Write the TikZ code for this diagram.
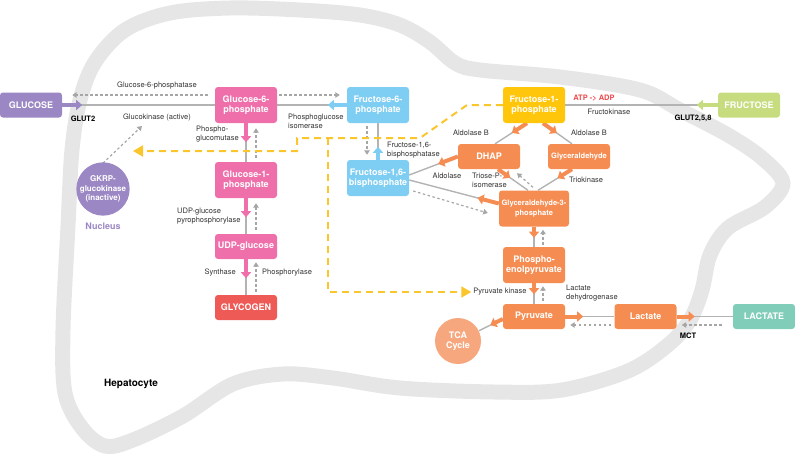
\documentclass[tikz,border=0pt]{standalone}
\usepackage{fontspec}
\setmainfont{TeX Gyre Heros}
\usetikzlibrary{arrows.meta,calc}
\definecolor{cpurple}{HTML}{9B87C4}
\definecolor{cpink}{HTML}{EE6FAA}
\definecolor{cblue}{HTML}{7ECDF2}
\definecolor{cred}{HTML}{EE5A55}
\definecolor{cyellowbox}{HTML}{FFC60B}
\definecolor{cgreen}{HTML}{C6DC7E}
\definecolor{corange}{HTML}{F58D53}
\definecolor{cteal}{HTML}{80CDB9}
\definecolor{ctca}{HTML}{F7A77E}
\definecolor{cline}{HTML}{B3B3B3}
\definecolor{cdash}{HTML}{A6A6A6}
\definecolor{cmem}{HTML}{E6E6E6}
\definecolor{cyel}{HTML}{FBC52C}
\definecolor{catp}{HTML}{EE4A4E}
\definecolor{clbl}{HTML}{333333}
\pgfdeclarelayer{mem}
\pgfdeclarelayer{lines}
\pgfsetlayers{mem,lines,main}
\begin{document}
\begin{tikzpicture}[x=1pt,y=-1pt,
  box/.style={rounded corners=3pt, minimum width=62pt, minimum height=25pt, inner sep=0pt,
    text=white, font=\fontsize{9}{10.5}\selectfont\bfseries, align=center},
  tall/.style={minimum height=36pt},
  smallbox/.style={font=\fontsize{7.5}{9.5}\selectfont\bfseries},
  ball/.style={circle, minimum size=46pt, inner sep=0pt, text=white, align=center},
  lbl/.style={font=\fontsize{7.5}{9}\selectfont, text=clbl, inner sep=0pt, align=left},
  blbl/.style={font=\fontsize{7.5}{9}\selectfont\bfseries, text=black, inner sep=0pt},
  link/.style={draw=cline, line width=1.4pt},
  back/.style={draw=cdash, line width=1.2pt, dash pattern=on 2.5pt off 2.5pt, -{Triangle[width=5.5pt,length=4.5pt]}},
  fat/.style={line width=4pt, -{Triangle[width=10pt,length=6pt]}},
  ydash/.style={draw=cyel, line width=2pt, dash pattern=on 7pt off 5pt, -{Triangle[width=11pt,length=10pt]}}
]
\useasboundingbox (0,0) rectangle (795,456);

% ---------- nodes ----------
\node[box, fill=cpurple] (glucose) at (31,105) {GLUCOSE};
\node[box, tall, fill=cpink] (g6p) at (246,105) {Glucose-6-\\phosphate};
\node[box, tall, fill=cblue] (f6p) at (378,105) {Fructose-6-\\phosphate};
\node[box, tall, fill=cpink] (g1p) at (246,180) {Glucose-1-\\phosphate};
\node[box, fill=cpink] (udp) at (246,246.5) {UDP-glucose};
\node[box, fill=cred] (gly) at (246,307.5) {GLYCOGEN};
\node[box, tall, fill=cblue] (f16bp) at (378,178) {Fructose-1,6-\\bisphosphate};
\node[box, tall, fill=cyellowbox] (f1p) at (534,105) {Fructose-1-\\phosphate};
\node[box, fill=cgreen] (fructose) at (749,105) {FRUCTOSE};
\node[box, fill=corange] (dhap) at (489,156.5) {DHAP};
\node[box, smallbox, fill=corange] (glyc) at (579,156.5) {Glyceraldehyde};
\node[box, tall, smallbox, minimum width=70pt, fill=corange] (ga3p) at (534,208.5) {Glyceraldehyde-3-\\phosphate};
\node[box, tall, fill=corange] (pep) at (534,265) {Phospho-\\enolpyruvate};
\node[box, fill=corange] (pyr) at (534,316.5) {Pyruvate};
\node[box, fill=corange] (lac) at (645.5,316.5) {Lactate};
\node[box, fill=cteal] (lactate) at (764,316.5) {LACTATE};
\node[ball, fill=cpurple, font=\fontsize{8}{9.5}\selectfont\bfseries] (gkrp) at (103,189) {GKRP-\\glucokinase\\(inactive)};
\node[ball, fill=ctca, font=\fontsize{9}{10.7}\selectfont\bfseries] (tca) at (458,341) {TCA\\Cycle};

% ---------- labels ----------
\node[lbl] (l-g6pase) at (157,86) {Glucose-6-phosphatase};
\node[lbl] (l-gk) at (157,117) {Glucokinase (active)};
\node[blbl] (l-glut2) at (83,119) {GLUT2};
\node[lbl, anchor=west] (l-pgi) at (288,121) {Phosphoglucose\\isomerase};
\node[lbl, anchor=west] (l-pgm) at (196,134) {Phospho-\\glucomutase};
\node[lbl, anchor=west] (l-udpp) at (177,216) {UDP-glucose\\pyrophosphorylase};
\node[lbl, anchor=east] (l-syn) at (236,273) {Synthase};
\node[lbl, anchor=west] (l-phos) at (262,273) {Phosphorylase};
\node[lbl, anchor=west] (l-fbpase) at (387,150) {Fructose-1,6-\\bisphosphatase};
\node[blbl, text=catp] (l-atp) at (594,98) {ATP -> ADP};
\node[lbl] (l-fk) at (609,112) {Fructokinase};
\node[blbl] (l-glut258) at (693,118) {GLUT2,5,8};
\node[lbl] (l-aldb1) at (471,133) {Aldolase B};
\node[lbl] (l-aldb2) at (589,133) {Aldolase B};
\node[lbl] (l-ald) at (447,176) {Aldolase};
\node[lbl, anchor=west] (l-tpi) at (472,180) {Triose-P-\\isomerase};
\node[lbl, anchor=west] (l-trk) at (569,180) {Triokinase};
\node[lbl] (pk) at (500,292) {Pyruvate kinase};
\node[lbl, anchor=west] (l-ldh) at (566,293) {Lactate\\dehydrogenase};
\node[blbl] (l-mct) at (688,336) {MCT};
\node[font=\fontsize{9}{10}\selectfont\bfseries, text=cpurple, inner sep=0pt] (l-nuc) at (103,226) {Nucleus};
\node[font=\fontsize{10}{12}\selectfont\bfseries, text=black, inner sep=0pt] (l-hep) at (131,384) {Hepatocyte};

% ---------- helper coordinates ----------
\coordinate (gkend) at (142,126);
\coordinate (ytipL) at (133,151);
\coordinate (f1pL) at ($(f1p.south)+(-7,0)$);
\coordinate (f1pR) at ($(f1p.south)+(9,0)$);
\coordinate (dhapT) at ($(dhap.north)+(6,0)$);
\coordinate (glycT) at ($(glyc.north)+(-7,0)$);
\coordinate (fbpA) at ($(f16bp.east)+(0,-3)$);
\coordinate (fbpB) at ($(f16bp.east)+(0,2)$);
\coordinate (gapW) at ($(ga3p.west)+(0,-5)$);
\coordinate (dhapB) at ($(dhap.south)+(9,0)$);
\coordinate (gapT1) at ($(ga3p.north)+(-6,0)$);
\coordinate (glycB) at ($(glyc.south)+(-7,0)$);
\coordinate (gapT2) at ($(ga3p.north)+(4,0)$);
\coordinate (pyrW) at ($(pyr.west)+(0,2.5)$);

% ---------- membrane ----------
\begin{pgfonlayer}{mem}
\draw[cmem, line width=15pt] plot[smooth cycle, tension=0.55] coordinates {
 (68,226) (72,150) (80,100) (95,62) (125,30) (170,13) (230,8) (300,10) (360,15)
 (400,25) (430,42) (455,63) (480,70) (560,77) (640,90) (680,110) (728,135)
 (762,158) (783,183) (765,207) (728,228) (710,255) (702,290) (690,320) (668,345)
 (628,371) (562,390) (495,392) (400,388) (333,378) (283,374) (233,384) (183,416)
 (133,440) (105,446) (82,428) (65,393) (63,330)};
\end{pgfonlayer}

% ---------- connectors ----------
\begin{pgfonlayer}{lines}
% glucose <-> G6P
\draw[link] (glucose.east) -- (g6p.west);
\draw[fat, cpurple] (glucose.east) -- ($(glucose.east)!20pt!(g6p.west)$);
\draw[back] ($(g6p.west)+(-7,-10)$) -- ($(glucose.east)+(10,-10)$);
\draw[back] ($(gkrp.north)+(0,1)$) -- (gkend);
% G6P <-> F6P
\draw[link] (g6p.east) -- (f6p.west);
\draw[fat, cblue] (f6p.west) -- ($(f6p.west)!19pt!(g6p.east)$);
\draw[back] ($(g6p.east)+(2,-10)$) -- ($(f6p.west)+(-7,-10)$);
% G6P <-> G1P
\draw[link] (g6p.south) -- (g1p.north);
\draw[fat, cpink] (g6p.south) -- ($(g6p.south)!19pt!(g1p.north)$);
\draw[back] ($(g1p.north)+(10,-4)$) -- ($(g6p.south)+(10,5)$);
% G1P <-> UDP
\draw[link] (g1p.south) -- (udp.north);
\draw[fat, cpink] (g1p.south) -- ($(g1p.south)!19pt!(udp.north)$);
\draw[back] ($(udp.north)+(10,-4)$) -- ($(g1p.south)+(10,5)$);
% UDP <-> glycogen
\draw[link] (udp.south) -- (gly.north);
\draw[fat, cpink] (udp.south) -- ($(udp.south)!19pt!(gly.north)$);
\draw[back] ($(gly.north)+(10,-3)$) -- ($(udp.south)+(10,3)$);
% F6P <-> F1,6BP
\draw[link] (f6p.south) -- (f16bp.north);
\draw[fat, cblue] (f16bp.north) -- ($(f16bp.north)!13pt!(f6p.south)$);
\draw[back] ($(f6p.south)+(-11,3)$) -- ($(f16bp.north)+(-11,-5)$);
% fructose -> F1P
\draw[link] (fructose.west) -- (f1p.east);
\draw[fat, cgreen] (fructose.west) -- ($(fructose.west)!21pt!(f1p.east)$);
% F1P -> DHAP / glyceraldehyde
\draw[link] (f1pL) -- (dhapT);
\draw[fat, corange] (f1pL) -- ($(f1pL)!18pt!(dhapT)$);
\draw[link] (f1pR) -- (glycT);
\draw[fat, corange] (f1pR) -- ($(f1pR)!17pt!(glycT)$);
% DHAP -> F1,6BP
\draw[link] (fbpA) -- (dhap.west);
\draw[fat, corange] (dhap.west) -- ($(dhap.west)!21pt!(fbpA)$);
% GA3P -> F1,6BP
\draw[link] (fbpB) -- (gapW);
\draw[fat, corange] (gapW) -- ($(gapW)!22pt!(fbpB)$);
\draw[back] ($(f16bp.east)+(4,13)$) -- ($(ga3p.west)+(-11,4.5)$);
% DHAP -> GA3P
\draw[link] (dhapB) -- (gapT1);
\draw[fat, corange] (dhapB) -- ($(dhapB)!15pt!(gapT1)$);
\draw[back] ($(ga3p.north)+(-1,-3)$) -- ($(dhap.south)+(28,4)$);
% glyceraldehyde -> GA3P
\draw[link] (glycB) -- (gapT2);
\draw[fat, corange] (glycB) -- ($(glycB)!17pt!(gapT2)$);
% GA3P -> PEP
\draw[link] (ga3p.south) -- (pep.north);
\draw[fat, corange] (ga3p.south) -- ($(ga3p.south)!11pt!(pep.north)$);
\draw[back] ($(pep.north)+(9,-2)$) -- ($(ga3p.south)+(9,3)$);
% PEP -> pyruvate
\draw[link] (pep.south) -- (pyr.north);
\draw[fat, corange] (pep.south) -- ($(pep.south)!11pt!(pyr.north)$);
\draw[back] ($(pyr.north)+(9,-3)$) -- ($(pep.south)+(9,3)$);
% pyruvate <-> lactate
\draw[link] (pyr.east) -- (lac.west);
\draw[fat, corange] (pyr.east) -- ($(pyr.east)!18pt!(lac.west)$);
\draw[back] ($(lac.west)+(-3,8.5)$) -- ($(pyr.east)+(5,8.5)$);
% lactate <-> LACTATE
\draw[link] (lac.east) -- (lactate.west);
\draw[fat, corange] (lac.east) -- ($(lac.east)!18pt!(lactate.west)$);
\draw[back] ($(lactate.west)+(-11,8.5)$) -- ($(lac.east)+(5,8.5)$);
% pyruvate -> TCA
\draw[link] (pyrW) -- (tca);
\draw[fat, corange] (pyrW) -- ($(pyrW)!14pt!(tca)$);
% yellow dashed regulation lines
\draw[ydash] (f1p.west) -- (467,105) -- (420,138) -- (297,138) -- (297,151) -- (ytipL);
\draw[ydash, shorten >=2pt] (328,138) -- (328,292) -- (pk.west);
\end{pgfonlayer}
\end{tikzpicture}
\end{document}
